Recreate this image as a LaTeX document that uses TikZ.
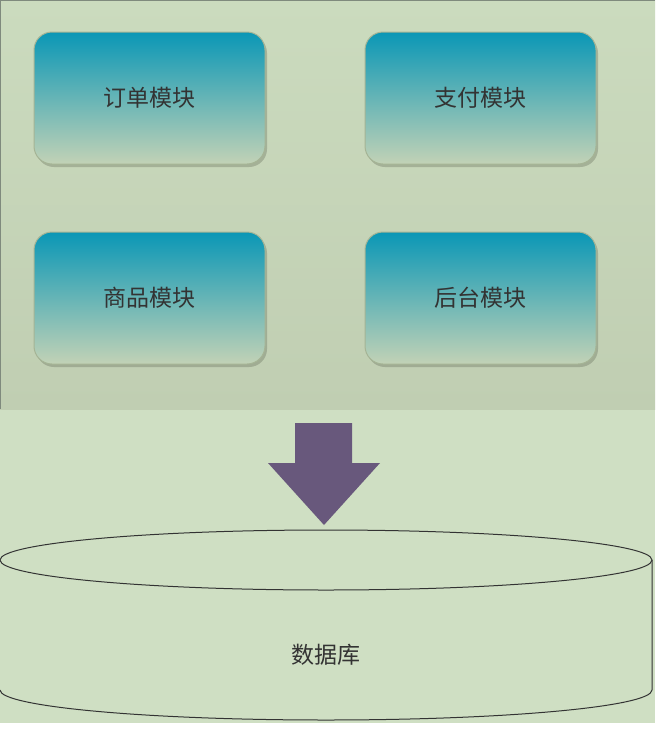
\documentclass[tikz,border=0pt]{standalone}
\usepackage{fontspec}
\newfontfamily\cjk{Noto Sans CJK SC}
\usetikzlibrary{shadows}
\definecolor{bgc}{HTML}{CFDFC3}
\definecolor{panelTop}{HTML}{CBDBBE}
\definecolor{panelBot}{HTML}{C0CEB2}
\definecolor{bordc}{HTML}{7F8A7D}
\definecolor{modTop}{HTML}{0A97B6}
\definecolor{modMid}{HTML}{5AADB7}
\definecolor{modBot}{HTML}{C2D2B6}
\definecolor{modLine}{HTML}{A5B495}
\definecolor{arrowc}{HTML}{68587C}
\definecolor{txtc}{HTML}{333333}
\begin{document}
\begin{tikzpicture}[x=1pt,y=-1pt,
  module/.style={rectangle, rounded corners=18pt, minimum width=231pt, minimum height=132pt,
    inner sep=0pt, top color=modTop, middle color=modMid, bottom color=modBot, draw=modLine, line width=1pt,
    drop shadow={shadow xshift=2pt, shadow yshift=-3pt, opacity=0.35, fill=black!40!modLine},
    font=\cjk\fontsize{23pt}{26pt}\selectfont, text=txtc},
  dbline/.style={draw=black!80, line width=1pt},
  label/.style={font=\cjk\fontsize{23pt}{26pt}\selectfont, text=txtc}]
\useasboundingbox (0,0) rectangle (660,732);
\fill[white] (0,0) rectangle (660,732);
\fill[bgc] (0,0) rectangle (655,723);
\shade[top color=panelTop, bottom color=panelBot] (0,0) rectangle (655,409);
\draw[bordc, line width=1.5pt] (0,409) -- (0,0) -- (655,0);
\node[module] (order) at (149.5,98) {订单模块};
\node[module] (pay) at (480.5,98) {支付模块};
\node[module] (goods) at (149.5,298) {商品模块};
\node[module] (admin) at (480.5,298) {后台模块};
\fill[arrowc] (295,423) -- (352,423) -- (352,463) -- (380,463) -- (324,525) -- (268,463) -- (295,463) -- cycle;
\coordinate (topc) at (326,560);
\coordinate (botl) at (0,690);
\draw[dbline] (topc) ellipse [x radius=326pt, y radius=30pt];
\draw[dbline] (botl) arc[start angle=180, end angle=360, x radius=326pt, y radius=30pt] -- (652,560);
\node[label] (db) at (326,655) {数据库};
\end{tikzpicture}
\end{document}
